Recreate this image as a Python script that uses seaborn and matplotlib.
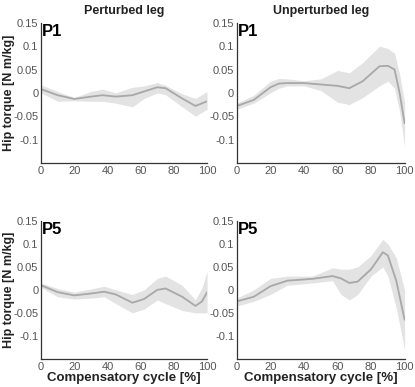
import numpy as np
import pandas as pd
import seaborn as sns
import matplotlib.pyplot as plt

# Data (cycle %, mean, upper, lower)
p1_pert_x = [0, 10, 20, 30, 37, 45, 55, 62, 70, 75, 85, 93, 100]
p1_pert_mean = [0.008, -0.005, -0.013, -0.008, -0.005, -0.008, -0.005, 0.003, 0.012, 0.010, -0.012, -0.028, -0.018]
p1_pert_hi = [0.017, 0.003, -0.010, 0.003, 0.008, 0.000, 0.012, 0.015, 0.022, 0.016, -0.002, -0.012, 0.003]
p1_pert_lo = [0.000, -0.018, -0.017, -0.018, -0.018, -0.022, -0.030, -0.012, 0.000, -0.004, -0.030, -0.050, -0.035]

p1_unp_x = [0, 10, 20, 25, 30, 40, 50, 60, 67, 75, 85, 90, 94, 97, 100]
p1_unp_mean = [-0.028, -0.015, 0.012, 0.020, 0.021, 0.021, 0.018, 0.015, 0.010, 0.025, 0.057, 0.058, 0.050, 0.000, -0.065]
p1_unp_hi = [-0.022, -0.005, 0.025, 0.031, 0.030, 0.026, 0.030, 0.048, 0.043, 0.065, 0.100, 0.095, 0.085, 0.040, -0.020]
p1_unp_lo = [-0.035, -0.022, 0.000, 0.010, 0.015, 0.015, 0.005, -0.020, -0.025, -0.010, 0.015, 0.025, 0.010, -0.040, -0.115]

p5_pert_x = [0, 10, 20, 30, 38, 45, 55, 62, 70, 75, 85, 93, 97, 100]
p5_pert_mean = [0.010, -0.005, -0.012, -0.008, -0.004, -0.010, -0.028, -0.020, 0.000, 0.003, -0.015, -0.035, -0.025, -0.005]
p5_pert_hi = [0.015, 0.003, -0.005, 0.002, 0.008, 0.000, -0.010, 0.000, 0.025, 0.030, 0.010, -0.022, 0.005, 0.040]
p5_pert_lo = [0.005, -0.015, -0.020, -0.018, -0.015, -0.030, -0.050, -0.042, -0.022, -0.030, -0.045, -0.050, -0.050, -0.050]

p5_unp_x = [0, 10, 20, 30, 45, 57, 62, 67, 72, 80, 87, 90, 95, 100]
p5_unp_mean = [-0.025, -0.015, 0.008, 0.020, 0.024, 0.030, 0.025, 0.015, 0.018, 0.045, 0.082, 0.075, 0.020, -0.065]
p5_unp_hi = [-0.018, 0.000, 0.025, 0.030, 0.030, 0.048, 0.045, 0.045, 0.050, 0.075, 0.110, 0.100, 0.070, 0.000]
p5_unp_lo = [-0.035, -0.025, -0.010, 0.010, 0.015, 0.020, -0.010, -0.022, -0.010, 0.030, 0.050, 0.030, -0.040, -0.130]

panel_labels = ["P1", "P1", "P5", "P5"]
col_titles = ["Perturbed leg", "Unperturbed leg"]
y_ticks = [-0.1, -0.05, 0, 0.05, 0.1, 0.15]
y_ticklabels = ["-0.1", "-0.05", "0", "0.05", "0.1", "0.15"]
x_ticks = [0, 20, 40, 60, 80, 100]

series = [
    (p1_pert_x, p1_pert_mean, p1_pert_hi, p1_pert_lo),
    (p1_unp_x, p1_unp_mean, p1_unp_hi, p1_unp_lo),
    (p5_pert_x, p5_pert_mean, p5_pert_hi, p5_pert_lo),
    (p5_unp_x, p5_unp_mean, p5_unp_hi, p5_unp_lo),
]

sns.set_style("white")
plt.rcParams['font.family'] = ['Liberation Sans', 'DejaVu Sans']

fig = plt.figure(figsize=(4.15, 3.87), dpi=100)
positions = [
    [0.099, 0.579, 0.400, 0.362],
    [0.571, 0.579, 0.404, 0.362],
    [0.099, 0.073, 0.400, 0.356],
    [0.571, 0.073, 0.404, 0.356],
]

for i, (pos, (x, m, hi, lo)) in enumerate(zip(positions, series)):
    ax = fig.add_axes(pos)
    df = pd.DataFrame({"x": x, "mean": m, "hi": hi, "lo": lo})
    ax.fill_between(df["x"], df["lo"], df["hi"], color="#e3e3e3", linewidth=0)
    sns.lineplot(data=df, x="x", y="mean", ax=ax, color="#a8a8a8", linewidth=1.3)
    ax.set_xlim(0, 100)
    ax.set_ylim(-0.15, 0.15)
    ax.set_xticks(x_ticks)
    ax.set_yticks(y_ticks)
    ax.set_yticklabels(y_ticklabels)
    ax.tick_params(direction="in", length=3, width=0.8, labelsize=8,
                   labelcolor="#555555", color="#333333", pad=2)
    for s in ["top", "right"]:
        ax.spines[s].set_visible(False)
    for s in ["left", "bottom"]:
        ax.spines[s].set_color("#333333")
        ax.spines[s].set_linewidth(0.9)
    ax.set_xlabel("")
    ax.set_ylabel("")
    ax.text(0.005, 0.99, panel_labels[i], transform=ax.transAxes, ha="left", va="top",
            fontsize=12, fontweight="bold", color="black")
    if i < 2:
        ax.set_title(col_titles[i], fontsize=9, fontweight="bold", color="#222222", pad=6)
    if i >= 2:
        ax.set_xlabel("Compensatory cycle [%]", fontsize=9.5, fontweight="bold", color="#222222", labelpad=0)

# shared-style y labels on the left column
for yc in [0.579 + 0.362 / 2, 0.073 + 0.356 / 2]:
    fig.text(0.022, yc, "Hip torque [N m/kg]", rotation=90, ha="center", va="center",
             fontsize=9, fontweight="bold", color="#222222")

fig.savefig("out.png", dpi=100)
